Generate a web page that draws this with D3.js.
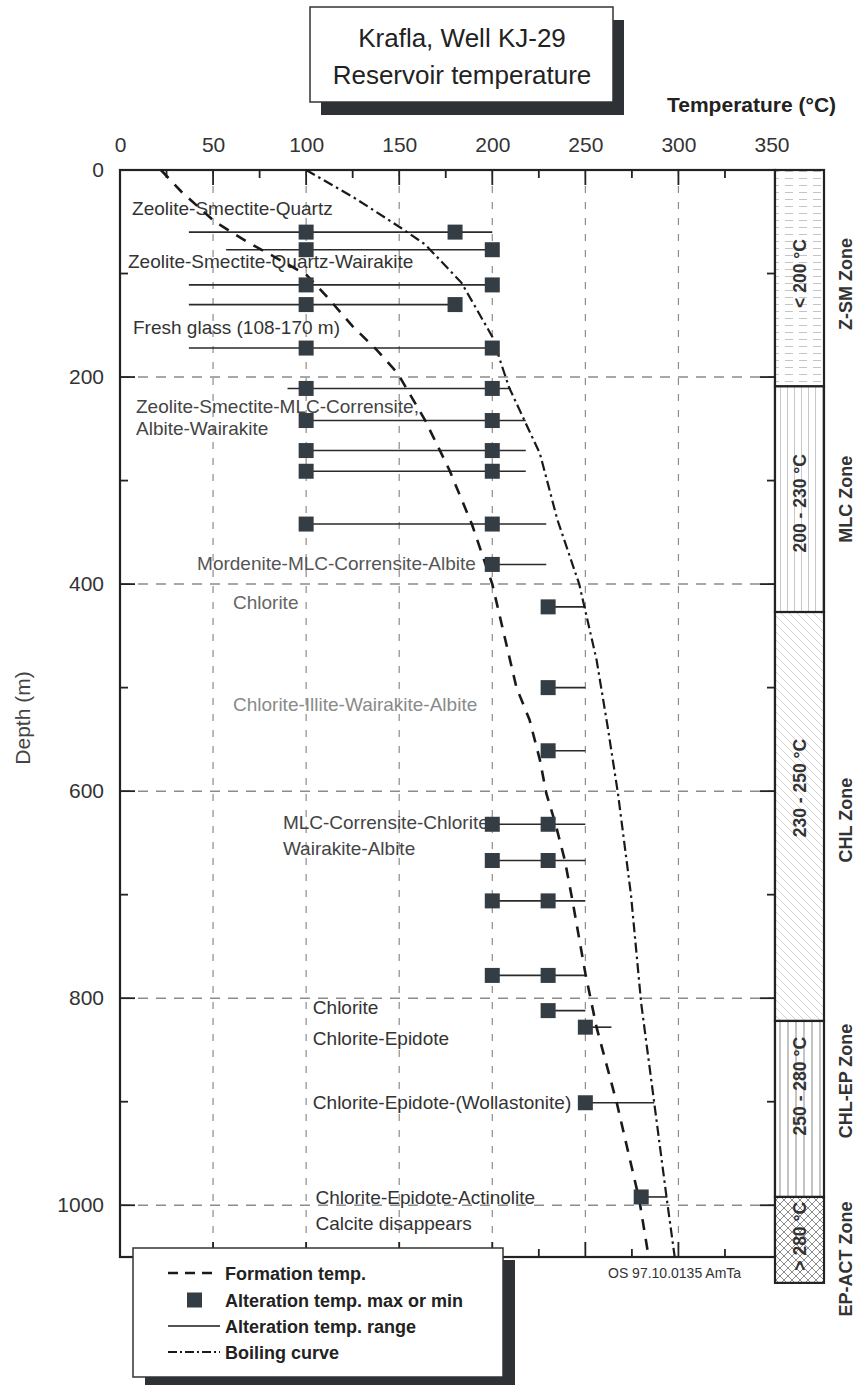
<!DOCTYPE html>
<html><head><meta charset="utf-8">
<script src="https://cdn.jsdelivr.net/npm/d3@7"></script>
<style>
html,body{margin:0;padding:0;background:#fff;}
text{font-family:"Liberation Sans",Arial,sans-serif;}
</style></head>
<body>
<svg id="chart" width="859" height="1385"></svg>
<script>
// ---------------- DATA ----------------
const tempTicks = [0, 50, 100, 150, 200, 250, 300, 350];
const depthTicks = [0, 200, 400, 600, 800, 1000];

// alteration samples: depth (m), range line min/max (°C), squares (°C)
const sampleDepth = [60, 77, 111, 130, 172, 211, 242, 271, 291, 342, 381, 422, 500, 561, 632, 667, 706, 778, 812, 828, 901, 992];
const rangeMin    = [37, 57, 37, 37, 37, 90, 100, 100, 100, 100, 200, 230, 230, 230, 200, 200, 200, 200, 230, 250, 250, 280];
const rangeMax    = [200, 200, 200, 180, 200, 210, 218, 218, 218, 229, 229, 250, 250, 250, 250, 250, 250, 250, 250, 264, 287, 294];
const markerLow   = [100, 100, 100, 100, 100, 100, 100, 100, 100, 100, 200, 230, 230, 230, 200, 200, 200, 200, 230, 250, 250, 280];
const markerHigh  = [180, 200, 200, 180, 200, 200, 200, 200, 200, 200, null, null, null, null, 230, 230, 230, 230, null, null, null, null];

// formation temperature curve
const formDepth = [0, 21, 50, 69, 101, 122, 151, 174, 196, 242, 290, 342, 400, 500, 531, 570, 602, 632, 667, 705, 776, 828, 902, 995, 1050];
const formTemp  = [22, 33, 51, 68, 100, 111, 125, 138, 149, 164, 177, 189, 200, 213, 220, 225.6, 229, 234, 239, 243, 250, 256, 267, 279, 284];

// boiling curve
const boilDepth = [0, 27, 56, 72, 109, 161, 210, 274, 338, 400, 473, 538, 602, 700, 805, 901, 992, 1050];
const boilTemp  = [100, 126, 151, 164, 183.5, 200, 209, 225.6, 235, 246.7, 256, 262, 267.5, 274.5, 280, 287, 293.6, 298];

// mineral assemblage annotations: text, temperature (x), depth (baseline)
const noteText  = ["Zeolite-Smectite-Quartz", "Zeolite-Smectite-Quartz-Wairakite", "Fresh glass (108-170 m)",
  "Zeolite-Smectite-MLC-Corrensite,", "Albite-Wairakite", "Mordenite-MLC-Corrensite-Albite", "Chlorite",
  "Chlorite-Illite-Wairakite-Albite", "MLC-Corrensite-Chlorite", "Wairakite-Albite", "Chlorite", "Chlorite-Epidote",
  "Chlorite-Epidote-(Wollastonite)", "Chlorite-Epidote-Actinolite", "Calcite disappears"];
const noteTemp  = [6.5, 4.3, 7, 8.6, 8.6, 41.4, 60.7, 60.7, 87.5, 87.5, 103.6, 103.6, 103.6, 105, 105];
const noteDepth = [43, 95, 158, 235, 255.7, 386, 424, 523, 637, 661.5, 815, 845, 907, 998.6, 1023.6];
const noteShade = ["#333", "#333", "#333", "#444", "#444", "#555", "#666", "#8a8a8a", "#444", "#444", "#333", "#333", "#333", "#333", "#333"];

// alteration zones
const zoneTop    = [0, 209, 427, 822, 992];
const zoneBottom = [209, 427, 822, 992, 1075];
const zoneTemp   = ["< 200 °C", "200 - 230 °C", "230 - 250 °C", "250 - 280 °C", "> 280 °C"];
const zoneName   = ["Z-SM Zone", "MLC Zone", "CHL Zone", "CHL-EP Zone", "EP-ACT Zone"];
const zoneTempAt = [100, 322, 597, 885, 1030];
const zoneNameAt = [110, 318, 628, 880, 1052];
const zonePattern = ["pZSM", "pMLC", "pCHL", "pCHLEP", "pEPACT"];

const legendLabels = ["Formation temp.", "Alteration temp. max or min", "Alteration temp. range", "Boiling curve"];

// ---------------- CHART ----------------
const svg = d3.select("#chart");
const x = d3.scaleLinear().domain([0, 350]).range([120, 771.5]);
const y = d3.scaleLinear().domain([0, 1050]).range([170, 1257]);
const plotL = 120, plotR = 775, plotT = y(0), plotB = y(1050);
const ink = "#222";

// patterns
const defs = svg.append("defs");
function pat(id, w, h, draw) {
  const p = defs.append("pattern").attr("id", id).attr("patternUnits", "userSpaceOnUse")
    .attr("width", w).attr("height", h);
  p.append("rect").attr("width", w).attr("height", h).attr("fill", "#fff");
  draw(p);
}
pat("pZSM", 14, 7, p => {
  p.append("line").attr("x1", 1).attr("x2", 9).attr("y1", 3.5).attr("y2", 3.5).attr("stroke", "#c4c4c4").attr("stroke-width", 1);
});
pat("pMLC", 7, 10, p => {
  p.append("line").attr("x1", 3.5).attr("x2", 3.5).attr("y1", 0).attr("y2", 10).attr("stroke", "#c8c8c8").attr("stroke-width", 1);
});
pat("pCHL", 8, 8, p => {
  p.append("path").attr("d", "M0,0 L8,8 M-4,4 L4,12 M4,-4 L12,4").attr("stroke", "#d2d2d2").attr("stroke-width", 1);
});
pat("pCHLEP", 8, 10, p => {
  p.append("line").attr("x1", 4).attr("x2", 4).attr("y1", 0).attr("y2", 10).attr("stroke", "#8a8a8a").attr("stroke-width", 1);
});
pat("pEPACT", 8, 8, p => {
  p.append("path").attr("d", "M0,0 L8,8 M8,0 L0,8").attr("stroke", "#8a8a8a").attr("stroke-width", 1);
});

// title box
svg.append("rect").attr("x", 321).attr("y", 20).attr("width", 303).attr("height", 95).attr("fill", "#2e3236");
svg.append("rect").attr("x", 310).attr("y", 7).attr("width", 303).attr("height", 95).attr("fill", "#fff")
  .attr("stroke", "#333").attr("stroke-width", 1.5);
svg.append("text").attr("x", 462).attr("y", 47).attr("text-anchor", "middle").attr("font-size", 26).attr("fill", "#222")
  .text("Krafla, Well KJ-29");
svg.append("text").attr("x", 462).attr("y", 84).attr("text-anchor", "middle").attr("font-size", 26).attr("fill", "#222")
  .text("Reservoir temperature");

svg.append("text").attr("x", 667).attr("y", 112).attr("font-size", 21).attr("font-weight", "bold").attr("fill", "#222")
  .text("Temperature (°C)");

// grid
const g = svg.append("g");
g.selectAll(".vg").data([50, 100, 150, 200, 250, 300]).join("line")
  .attr("x1", d => x(d)).attr("x2", d => x(d)).attr("y1", plotT).attr("y2", plotB)
  .attr("stroke", "#8c8c8c").attr("stroke-width", 1.2).attr("stroke-dasharray", "7,9");
g.selectAll(".hg").data([200, 400, 600, 800, 1000]).join("line")
  .attr("x1", plotL).attr("x2", plotR).attr("y1", d => y(d)).attr("y2", d => y(d))
  .attr("stroke", "#8c8c8c").attr("stroke-width", 1.5).attr("stroke-dasharray", "10,8");

// axes (ticks inward)
const topMinor = d3.range(0, 351, 25);
const axisTop = d3.axisTop(x).tickValues(tempTicks).tickSize(0).tickPadding(18).tickFormat(d3.format("d"));
const at = svg.append("g").attr("transform", `translate(0,${plotT})`).call(axisTop);
at.select(".domain").remove();
at.selectAll("text").attr("font-size", 21).attr("fill", "#333").attr("font-family", '"Liberation Sans",Arial,sans-serif');

svg.append("g").selectAll("line").data(topMinor.filter(d => d > 0 && d < 350)).join("line")
  .attr("x1", d => x(d)).attr("x2", d => x(d)).attr("y1", plotT).attr("y2", d => plotT + (d % 50 === 0 ? 15 : 8))
  .attr("stroke", ink).attr("stroke-width", 1.8);
svg.append("g").selectAll("line").data(topMinor.filter(d => d > 0 && d < 350)).join("line")
  .attr("x1", d => x(d)).attr("x2", d => x(d)).attr("y1", plotB).attr("y2", d => plotB - (d % 50 === 0 ? 15 : 8))
  .attr("stroke", ink).attr("stroke-width", 1.8);

const axisLeft = d3.axisLeft(y).tickValues(depthTicks).tickSize(0).tickPadding(16).tickFormat(d3.format("d"));
const al = svg.append("g").attr("transform", `translate(${plotL},0)`).call(axisLeft);
al.select(".domain").remove();
al.selectAll("text").attr("font-size", 21).attr("fill", "#333").attr("font-family", '"Liberation Sans",Arial,sans-serif');

const depthMinor = d3.range(100, 1050, 100);
svg.append("g").selectAll("line").data(depthMinor).join("line")
  .attr("x1", plotL).attr("x2", d => plotL + (d % 200 === 0 ? 15 : 8)).attr("y1", d => y(d)).attr("y2", d => y(d))
  .attr("stroke", ink).attr("stroke-width", 1.8);
svg.append("g").selectAll("line").data(depthMinor).join("line")
  .attr("x1", plotR).attr("x2", d => plotR - (d % 200 === 0 ? 15 : 8)).attr("y1", d => y(d)).attr("y2", d => y(d))
  .attr("stroke", ink).attr("stroke-width", 1.8);

svg.append("text").attr("transform", `translate(30,718) rotate(-90)`).attr("text-anchor", "middle")
  .attr("font-size", 21).attr("fill", "#444").text("Depth (m)");

// frame
svg.append("rect").attr("x", plotL).attr("y", plotT).attr("width", plotR - plotL).attr("height", plotB - plotT)
  .attr("fill", "none").attr("stroke", ink).attr("stroke-width", 2.2);

// annotations
svg.append("g").selectAll("text").data(noteText).join("text")
  .attr("x", (d, i) => x(noteTemp[i])).attr("y", (d, i) => y(noteDepth[i]))
  .attr("font-size", 19).attr("fill", (d, i) => noteShade[i]).text(d => d);

// range lines
const idx = d3.range(sampleDepth.length);
svg.append("g").selectAll("line").data(idx).join("line")
  .attr("x1", i => x(rangeMin[i])).attr("x2", i => x(rangeMax[i]))
  .attr("y1", i => y(sampleDepth[i])).attr("y2", i => y(sampleDepth[i]))
  .attr("stroke", "#2a2a2a").attr("stroke-width", 1.6);

// curves
const line = d3.line().x(d => x(d[0])).y(d => y(d[1]));
svg.append("path").datum(formTemp.map((t, i) => [t, formDepth[i]])).attr("d", line)
  .attr("fill", "none").attr("stroke", "#1a1a1a").attr("stroke-width", 2.6).attr("stroke-dasharray", "11,9");
svg.append("path").datum(boilTemp.map((t, i) => [t, boilDepth[i]])).attr("d", line)
  .attr("fill", "none").attr("stroke", "#1a1a1a").attr("stroke-width", 2.2).attr("stroke-dasharray", "10,4,2.5,4");

// squares
const sq = 15;
const marks = [];
idx.forEach(i => {
  marks.push([markerLow[i], sampleDepth[i]]);
  if (markerHigh[i] !== null) marks.push([markerHigh[i], sampleDepth[i]]);
});
svg.append("g").selectAll("rect").data(marks).join("rect")
  .attr("x", d => x(d[0]) - sq / 2).attr("y", d => y(d[1]) - sq / 2)
  .attr("width", sq).attr("height", sq).attr("fill", "#343d44");

// zone column
const zx0 = 775, zx1 = 824;
const zg = svg.append("g");
zg.selectAll("rect").data(zoneTop).join("rect")
  .attr("x", zx0).attr("y", d => y(d)).attr("width", zx1 - zx0)
  .attr("height", (d, i) => y(zoneBottom[i]) - y(d))
  .attr("fill", (d, i) => `url(#${zonePattern[i]})`).attr("stroke", ink).attr("stroke-width", 2.2);
zg.selectAll(".zt").data(zoneTemp).join("text")
  .attr("transform", (d, i) => `translate(${(zx0 + zx1) / 2 + 6.5},${y(zoneTempAt[i])}) rotate(-90)`)
  .attr("text-anchor", "middle").attr("font-size", 17.5).attr("font-weight", "bold").attr("fill", "#333").text(d => d);
zg.selectAll(".zn").data(zoneName).join("text")
  .attr("transform", (d, i) => `translate(852,${y(zoneNameAt[i])}) rotate(-90)`)
  .attr("text-anchor", "middle").attr("font-size", 18).attr("font-weight", "bold").attr("fill", "#333").text(d => d);

svg.append("text").attr("x", 608).attr("y", 1278).attr("font-size", 14).attr("fill", "#333").text("OS 97.10.0135 AmTa");

// legend
const lx = 133, ly = 1248, lw = 370, lh = 129;
svg.append("rect").attr("x", lx + 12).attr("y", ly + 12).attr("width", lw).attr("height", lh).attr("fill", "#2e3236");
svg.append("rect").attr("x", lx).attr("y", ly).attr("width", lw).attr("height", lh).attr("fill", "#fff")
  .attr("stroke", "#333").attr("stroke-width", 1.5);
const rowY = [1273, 1300, 1326, 1352];
const leg = svg.append("g");
leg.append("line").attr("x1", 168).attr("x2", 217).attr("y1", rowY[0]).attr("y2", rowY[0])
  .attr("stroke", "#1a1a1a").attr("stroke-width", 2.6).attr("stroke-dasharray", "10,7");
leg.append("rect").attr("x", 187).attr("y", rowY[1] - 7.5).attr("width", 15).attr("height", 15).attr("fill", "#343d44");
leg.append("line").attr("x1", 168).attr("x2", 220).attr("y1", rowY[2]).attr("y2", rowY[2])
  .attr("stroke", "#1a1a1a").attr("stroke-width", 1.6);
leg.append("line").attr("x1", 168).attr("x2", 220).attr("y1", rowY[3]).attr("y2", rowY[3])
  .attr("stroke", "#1a1a1a").attr("stroke-width", 2).attr("stroke-dasharray", "9,3,2,3");
leg.selectAll("text").data(legendLabels).join("text")
  .attr("x", 225).attr("y", (d, i) => rowY[i] + 6.5).attr("font-size", 18).attr("font-weight", "bold")
  .attr("fill", "#222").text(d => d);
</script>
</body></html>
